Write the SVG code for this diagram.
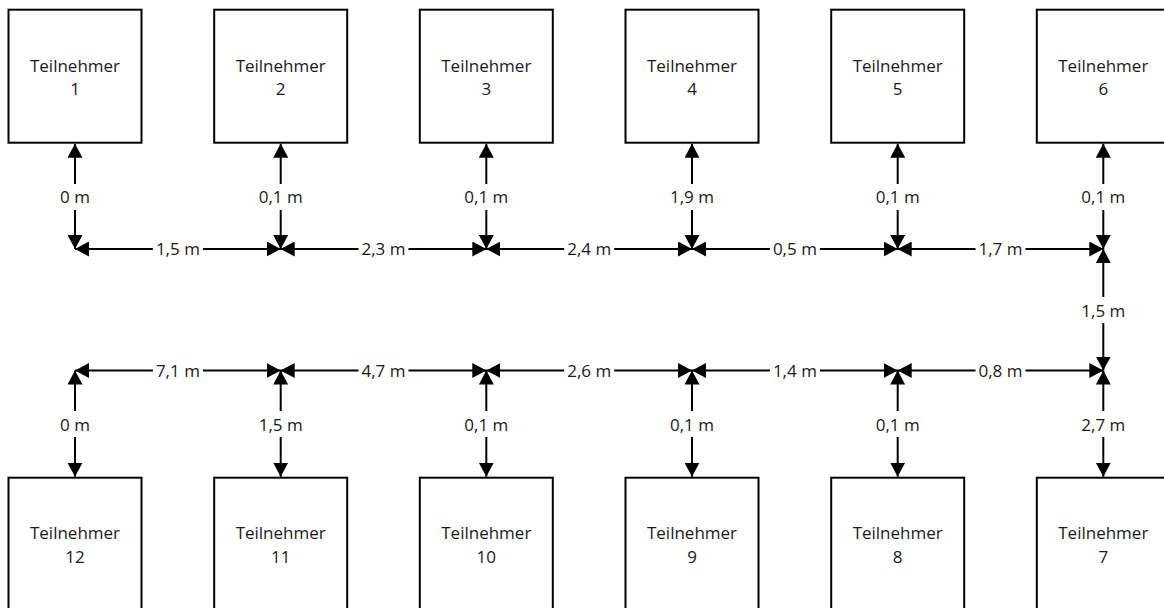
<svg xmlns="http://www.w3.org/2000/svg" width="1164" height="608" viewBox="0 0 1164 608">
  <style>
    .box rect { fill: #ffffff; stroke: #000000; stroke-width: 2; }
    text { font-family: "Open Sans", "Liberation Sans", sans-serif; font-size: 17px; fill: #1a1a1a; text-anchor: middle; }
    .line { fill: none; stroke: #000000; stroke-width: 2; marker-start: url(#ah); marker-end: url(#ah); }
    .bg { fill: #ffffff; stroke: none; }
  </style>
  <defs>
    <marker id="ah" viewBox="0 0 14 15" refX="14" refY="7.5" markerWidth="14" markerHeight="15" markerUnits="userSpaceOnUse" orient="auto-start-reverse">
      <path d="M0,0 L14,7.5 L0,15 z" fill="#000000"/>
    </marker>
  </defs>
  <rect x="0" y="0" width="1164" height="608" fill="#ffffff"/>

  <!-- Top row nodes -->
  <g id="node-1" class="box"><rect x="8.5" y="9.7" width="133" height="133"/><text x="75" y="71.7">Teilnehmer</text><text x="75" y="95.3">1</text></g>
  <g id="node-2" class="box"><rect x="214.2" y="9.7" width="133" height="133"/><text x="280.7" y="71.7">Teilnehmer</text><text x="280.7" y="95.3">2</text></g>
  <g id="node-3" class="box"><rect x="419.8" y="9.7" width="133" height="133"/><text x="486.3" y="71.7">Teilnehmer</text><text x="486.3" y="95.3">3</text></g>
  <g id="node-4" class="box"><rect x="625.5" y="9.7" width="133" height="133"/><text x="692" y="71.7">Teilnehmer</text><text x="692" y="95.3">4</text></g>
  <g id="node-5" class="box"><rect x="831.2" y="9.7" width="133" height="133"/><text x="897.7" y="71.7">Teilnehmer</text><text x="897.7" y="95.3">5</text></g>
  <g id="node-6" class="box"><rect x="1036.8" y="9.7" width="133" height="133"/><text x="1103.3" y="71.7">Teilnehmer</text><text x="1103.3" y="95.3">6</text></g>

  <!-- Bottom row nodes -->
  <g id="node-12" class="box"><rect x="8.5" y="477.7" width="133" height="133"/><text x="75" y="539.4">Teilnehmer</text><text x="75" y="563">12</text></g>
  <g id="node-11" class="box"><rect x="214.2" y="477.7" width="133" height="133"/><text x="280.7" y="539.4">Teilnehmer</text><text x="280.7" y="563">11</text></g>
  <g id="node-10" class="box"><rect x="419.8" y="477.7" width="133" height="133"/><text x="486.3" y="539.4">Teilnehmer</text><text x="486.3" y="563">10</text></g>
  <g id="node-9" class="box"><rect x="625.5" y="477.7" width="133" height="133"/><text x="692" y="539.4">Teilnehmer</text><text x="692" y="563">9</text></g>
  <g id="node-8" class="box"><rect x="831.2" y="477.7" width="133" height="133"/><text x="897.7" y="539.4">Teilnehmer</text><text x="897.7" y="563">8</text></g>
  <g id="node-7" class="box"><rect x="1036.8" y="477.7" width="133" height="133"/><text x="1103.3" y="539.4">Teilnehmer</text><text x="1103.3" y="563">7</text></g>

  <g id="connectors">
    <!-- top verticals -->
    <path class="line" d="M75,143.7 L75,249"/><rect class="bg" x="55" y="184" width="40" height="26"/><text x="75" y="203">0 m</text>
    <path class="line" d="M280.7,143.7 L280.7,249"/><rect class="bg" x="255.7" y="184" width="50" height="26"/><text x="280.7" y="203">0,1 m</text>
    <path class="line" d="M486.3,143.7 L486.3,249"/><rect class="bg" x="461.3" y="184" width="50" height="26"/><text x="486.3" y="203">0,1 m</text>
    <path class="line" d="M692,143.7 L692,249"/><rect class="bg" x="667" y="184" width="50" height="26"/><text x="692" y="203">1,9 m</text>
    <path class="line" d="M897.7,143.7 L897.7,249"/><rect class="bg" x="872.7" y="184" width="50" height="26"/><text x="897.7" y="203">0,1 m</text>
    <path class="line" d="M1103.3,143.7 L1103.3,249"/><rect class="bg" x="1078.3" y="184" width="50" height="26"/><text x="1103.3" y="203">0,1 m</text>

    <!-- top horizontals -->
    <path class="line" d="M75,249 L280.7,249"/><rect class="bg" x="152.9" y="239" width="50" height="20"/><text x="177.9" y="255">1,5 m</text>
    <path class="line" d="M280.7,249 L486.3,249"/><rect class="bg" x="358.5" y="239" width="50" height="20"/><text x="383.5" y="255">2,3 m</text>
    <path class="line" d="M486.3,249 L692,249"/><rect class="bg" x="564.2" y="239" width="50" height="20"/><text x="589.2" y="255">2,4 m</text>
    <path class="line" d="M692,249 L897.7,249"/><rect class="bg" x="769.9" y="239" width="50" height="20"/><text x="794.9" y="255">0,5 m</text>
    <path class="line" d="M897.7,249 L1103.3,249"/><rect class="bg" x="975.5" y="239" width="50" height="20"/><text x="1000.5" y="255">1,7 m</text>

    <!-- right vertical -->
    <path class="line" d="M1103.3,249 L1103.3,370.5"/><rect class="bg" x="1078.3" y="297" width="50" height="26"/><text x="1103.3" y="317">1,5 m</text>

    <!-- bottom horizontals -->
    <path class="line" d="M75,370.5 L280.7,370.5"/><rect class="bg" x="152.9" y="360.5" width="50" height="20"/><text x="177.9" y="376.5">7,1 m</text>
    <path class="line" d="M280.7,370.5 L486.3,370.5"/><rect class="bg" x="358.5" y="360.5" width="50" height="20"/><text x="383.5" y="376.5">4,7 m</text>
    <path class="line" d="M486.3,370.5 L692,370.5"/><rect class="bg" x="564.2" y="360.5" width="50" height="20"/><text x="589.2" y="376.5">2,6 m</text>
    <path class="line" d="M692,370.5 L897.7,370.5"/><rect class="bg" x="769.9" y="360.5" width="50" height="20"/><text x="794.9" y="376.5">1,4 m</text>
    <path class="line" d="M897.7,370.5 L1103.3,370.5"/><rect class="bg" x="975.5" y="360.5" width="50" height="20"/><text x="1000.5" y="376.5">0,8 m</text>

    <!-- bottom verticals -->
    <path class="line" d="M75,370.5 L75,476.7"/><rect class="bg" x="55" y="411" width="40" height="26"/><text x="75" y="430.5">0 m</text>
    <path class="line" d="M280.7,370.5 L280.7,476.7"/><rect class="bg" x="255.7" y="411" width="50" height="26"/><text x="280.7" y="430.5">1,5 m</text>
    <path class="line" d="M486.3,370.5 L486.3,476.7"/><rect class="bg" x="461.3" y="411" width="50" height="26"/><text x="486.3" y="430.5">0,1 m</text>
    <path class="line" d="M692,370.5 L692,476.7"/><rect class="bg" x="667" y="411" width="50" height="26"/><text x="692" y="430.5">0,1 m</text>
    <path class="line" d="M897.7,370.5 L897.7,476.7"/><rect class="bg" x="872.7" y="411" width="50" height="26"/><text x="897.7" y="430.5">0,1 m</text>
    <path class="line" d="M1103.3,370.5 L1103.3,476.7"/><rect class="bg" x="1078.3" y="411" width="50" height="26"/><text x="1103.3" y="430.5">2,7 m</text>
  </g>
</svg>
